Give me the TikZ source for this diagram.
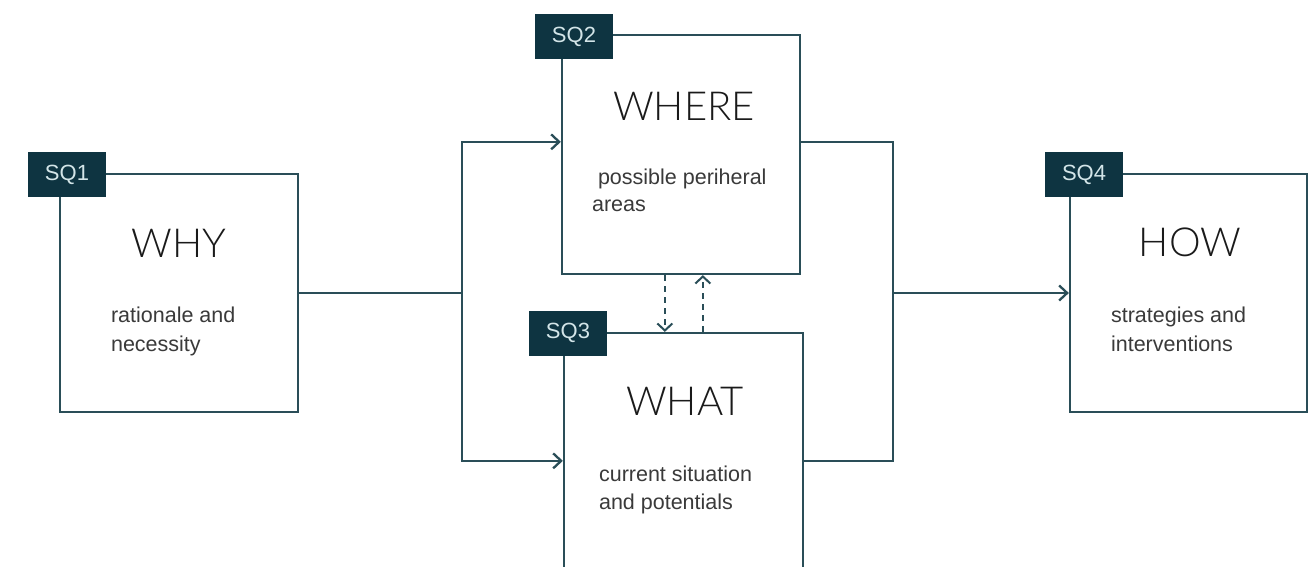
\documentclass[tikz,border=0pt]{standalone}
\usepackage{fontspec}
\setmainfont{Liberation Sans}
\newfontfamily\titlefont{Lato Light}
\usetikzlibrary{arrows.meta,calc}

\definecolor{linec}{HTML}{2A4E58}
\definecolor{tagfill}{HTML}{0E3441}
\definecolor{tagtext}{HTML}{D3E5E8}
\definecolor{titlec}{HTML}{1A1A1A}
\definecolor{bodyc}{HTML}{3A3A3A}

% two text lines whose first baseline is the node's base
\newcommand{\stackedlines}[3]{\vtop{\baselineskip=#3pt\hbox{#1}\hbox{#2}}}

\tikzset{
  qbox/.style={draw=linec, line width=2.3pt, fill=white, rectangle, inner sep=0pt},
  qtag/.style={fill=tagfill, text=tagtext, rectangle, inner sep=0pt,
               minimum width=78pt, minimum height=45pt, font=\fontsize{22}{24}\selectfont},
  qtitle/.style={anchor=base, text=titlec, inner sep=0pt, font=\titlefont\fontsize{40}{42}\selectfont},
  qbody/.style={anchor=base west, text=bodyc, inner sep=0pt, font=\fontsize{21.5}{27}\selectfont},
  conn/.style={draw=linec, line width=2.3pt, line join=miter},
  arrowtip/.style={-{Straight Barb[length=8pt,width=15pt]}},
  dashconn/.style={draw=linec, line width=2pt, dash pattern=on 6pt off 5pt,
                   -{Straight Barb[length=7pt,width=15pt]}}
}

\begin{document}
\begin{tikzpicture}[x=1pt,y=-1pt]
\useasboundingbox (0,0) rectangle (1316,567);
\clip (0,0) rectangle (1316,567);
\fill[white] (0,0) rectangle (1316,567);

% question boxes
\node[qbox, minimum width=238pt, minimum height=238pt] (why)   at (179,293)    {};
\node[qbox, minimum width=238pt, minimum height=239pt] (where) at (681,154.5)  {};
\node[qbox, minimum width=239pt, minimum height=300pt] (what)  at (683.5,483)  {};
\node[qbox, minimum width=237pt, minimum height=238pt] (how)   at (1188.5,293) {};

% entry points and junctions
\coordinate (jl) at (462,293);
\coordinate (jr) at (893,293);
\coordinate (wherein)  at ($(where.north west)+(0,108)$);
\coordinate (whereout) at ($(where.north east)+(0,108)$);
\coordinate (whatin)   at ($(what.north west)+(0,129)$);
\coordinate (whatout)  at ($(what.north east)+(0,129)$);

% connectors
\draw[conn] (why.east) -- (jl);
\draw[conn, arrowtip] (jl) |- (wherein);
\draw[conn, arrowtip] (jl) |- (whatin);
\draw[conn] (whereout) -| (jr);
\draw[conn] (whatout) -| (jr);
\draw[conn, arrowtip] (jr) -- (how.west);

% exchange between WHERE and WHAT
\draw[dashconn] ($(where.south west)+(104,0)$) -- ($(what.north west)+(102,0)$);
\draw[dashconn] ($(what.north west)+(140,0)$) -- ($(where.south west)+(142,0)$);

% tags
\node[qtag] (sq1) at (67,174.5)   {SQ1};
\node[qtag] (sq2) at (574,36.5)   {SQ2};
\node[qtag] (sq3) at (568,333)    {SQ3};
\node[qtag] (sq4) at (1084,174.5) {SQ4};

% titles
\node[qtitle] (whyt)   at ($(why.north)+(0,85)$)     {WHY};
\node[qtitle] (wheret) at ($(where.north)+(3,87)$)   {WHERE};
\node[qtitle] (whatt)  at ($(what.north)+(1.5,84)$)  {WHAT};
\node[qtitle] (howt)   at ($(how.north)+(1.5,84)$)   {HOW};

% descriptions
\node[qbody] (whyb)   at ($(why.north west)+(52,150)$)   {\stackedlines{rationale and}{necessity}{29}};
\node[qbody] (whereb) at ($(where.north west)+(31,151)$) {\stackedlines{\ possible periheral}{areas}{27}};
\node[qbody] (whatb)  at ($(what.north west)+(36,150)$)  {\stackedlines{current situation}{and potentials}{28}};
\node[qbody] (howb)   at ($(how.north west)+(42,150)$)   {\stackedlines{strategies and}{interventions}{29}};
\end{tikzpicture}
\end{document}
